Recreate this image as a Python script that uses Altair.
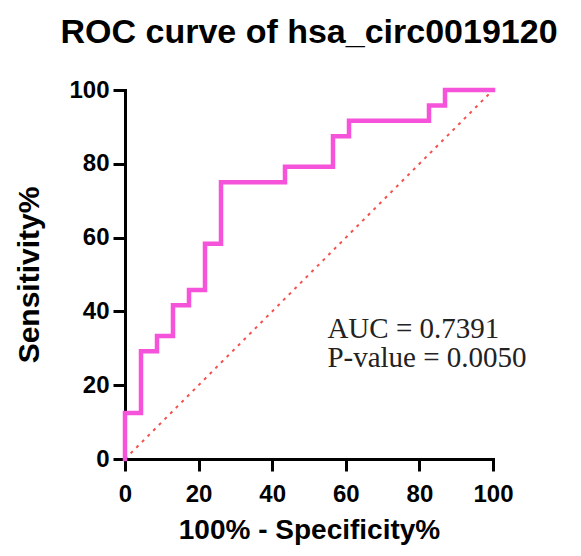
import altair as alt
import pandas as pd

# ROC points (100% - Specificity%, Sensitivity%)
fpr = [0, 0, 4.348, 8.696, 13.04, 17.39, 21.74, 26.09, 43.48, 56.52, 60.87, 82.61, 86.96, 100]
tpr = [0, 12.5, 29.17, 33.33, 41.67, 45.83, 58.33, 75.0, 79.17, 87.5, 91.67, 95.83, 100, 100]

ref_x = [0, 100]
ref_y = [0, 100]

ann_text = ["AUC = 0.7391", "P-value = 0.0050"]
ann_x = [55, 55]
ann_y = [32.7, 24.9]

roc = pd.DataFrame({"x": fpr, "y": tpr, "i": list(range(len(fpr)))})
ref = pd.DataFrame({"x": ref_x, "y": ref_y})
ann = pd.DataFrame({"t": ann_text, "x": ann_x, "y": ann_y})

FONT = "Liberation Sans"
xs = alt.Scale(domain=[0, 100], nice=False)
ys = alt.Scale(domain=[0, 100], nice=False)

x_axis = alt.Axis(values=[0, 20, 40, 60, 80, 100], title="100% - Specificity%",
                  labelPadding=11, titlePadding=10, labelFlush=False, titleFontSize=28)
y_axis = alt.Axis(values=[0, 20, 40, 60, 80, 100], title="Sensitivity%",
                  labelPadding=4, titlePadding=24, labelFlush=False)

diag = alt.Chart(ref).mark_line(color="#F4504C", strokeWidth=2, strokeDash=[3, 5]).encode(
    x=alt.X("x:Q", scale=xs, axis=x_axis),
    y=alt.Y("y:Q", scale=ys, axis=y_axis),
)

curve = alt.Chart(roc).mark_line(color="#F553D9", strokeWidth=4.5, interpolate="step-after",
                                 strokeJoin="miter", strokeCap="square").encode(
    x=alt.X("x:Q", scale=xs),
    y=alt.Y("y:Q", scale=ys),
    order="i:Q",
)

texts = alt.Chart(ann).mark_text(font="Liberation Serif", fontSize=29, align="left",
                                 baseline="alphabetic", color="#222222").encode(
    x=alt.X("x:Q", scale=xs),
    y=alt.Y("y:Q", scale=ys),
    text="t:N",
)

chart = alt.layer(diag, curve, texts).properties(
    width=368, height=369,
    title=alt.TitleParams("ROC curve of hsa_circ0019120", font=FONT, fontSize=34,
                          fontWeight="bold", color="black", anchor="middle", offset=28),
    autosize=alt.AutoSizeParams(type="none"),
    padding={"left": 117, "top": 82, "right": 80, "bottom": 89},
).configure_view(stroke=None).configure_axis(
    grid=False, domainColor="black", domainWidth=3, tickColor="black", tickWidth=3,
    tickSize=12, labelFont=FONT, labelFontSize=24, labelFontWeight="bold", labelColor="black",
    titleFont=FONT, titleFontSize=30, titleFontWeight="bold", titleColor="black",
    domainCap="square",
)

chart.save("out.html", embed_options={"renderer": "svg", "actions": False})
